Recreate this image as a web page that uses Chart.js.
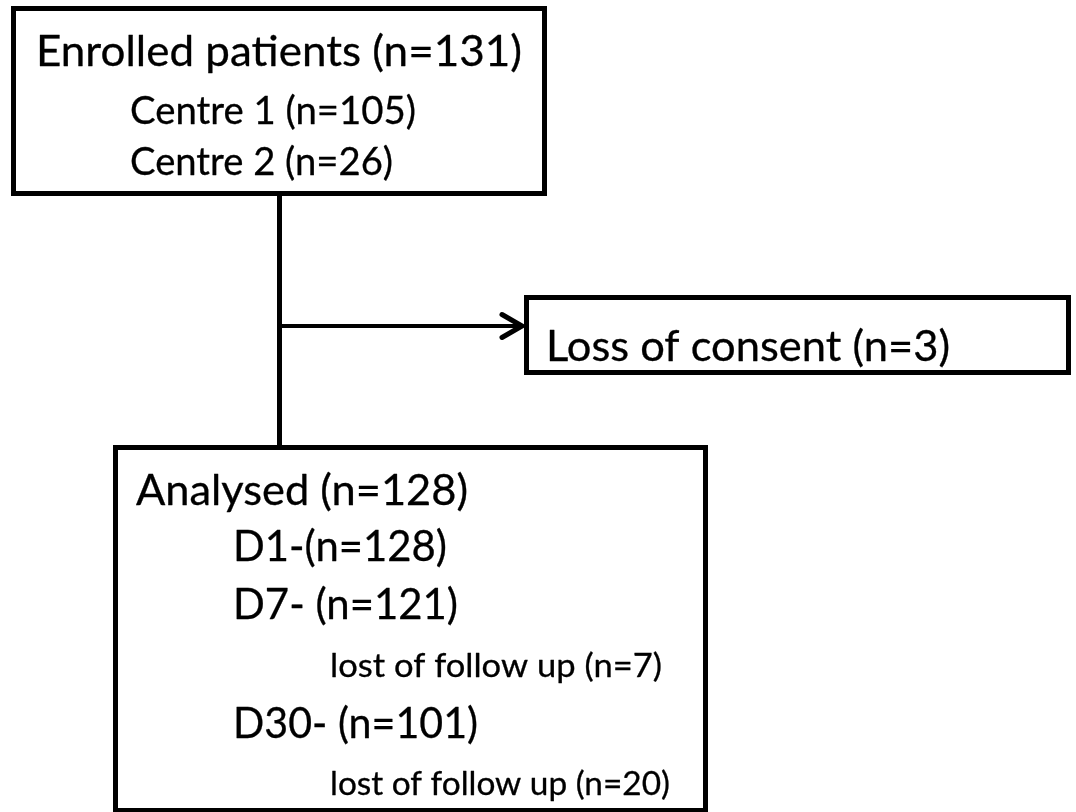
<!DOCTYPE html>
<html>
<head>
<meta charset="utf-8">
<script src="https://cdn.jsdelivr.net/npm/chart.js@4.4.1/dist/chart.umd.min.js"></script>
<style>
  html, body { margin: 0; padding: 0; background: #ffffff; }
  #wrap { width: 1076px; height: 812px; }
</style>
</head>
<body>
<div id="wrap"><canvas id="c" width="1076" height="812"></canvas></div>
<script>
// ---- data ----
const enrolledLabel = 'Enrolled patients';
const enrolledN = 131;
const centres = ['Centre 1', 'Centre 2'];
const centreN = [105, 26];
const exclusionLabel = 'Loss of consent';
const exclusionN = 3;
const analysedLabel = 'Analysed';
const analysedN = 128;
const visits = ['D1-', 'D7- ', 'D30- '];
const visitN = [128, 121, 101];
const lostLabel = 'lost of follow up';
const lostN = [null, 7, 20];

// ---- text built from the data ----
const nTxt = n => '(n=' + n + ')';
const enrolledLines = [enrolledLabel + ' ' + nTxt(enrolledN)]
  .concat(centres.map((c, i) => c + ' ' + nTxt(centreN[i])));
const exclusionLines = [exclusionLabel + ' ' + nTxt(exclusionN)];
const analysedLines = [analysedLabel + ' ' + nTxt(analysedN)];
visits.forEach((v, i) => {
  analysedLines.push(v + nTxt(visitN[i]));
  if (lostN[i] != null) analysedLines.push(lostLabel + ' ' + nTxt(lostN[i]));
});

// ---- layout (axis units of the hidden scales) ----
const layout = {
  border: 5,
  boxes: [
    { x0: 11, y0: 6, x1: 547, y1: 196 },
    { x0: 524, y0: 295, x1: 1071, y1: 375 },
    { x0: 113, y0: 445, x1: 708, y1: 813 }
  ],
  // per line: left, baseline, right, cap height
  text: [
    [ [36, 66, 522, 30], [130, 124, 416, 27.5], [130, 175, 393, 27.5] ],
    [ [546, 361, 950, 30.5] ],
    [ [136, 505, 468, 30.5], [233, 561, 447, 30], [233, 619, 458, 30],
      [330, 677, 662, 23], [233, 738, 478, 30], [330, 795, 670, 23] ]
  ],
  stem: { x: 279.5, y0: 196, y1: 445, w: 5 },
  branch: { y: 326, x1: 522, w: 4, head: 20, spread: 11.5, headW: 5 }
};

const flowPlugin = {
  id: 'flow',
  beforeDraw(chart) {
    const ctx = chart.ctx;
    ctx.save();
    ctx.fillStyle = '#ffffff';
    ctx.fillRect(0, 0, chart.width, chart.height);
    ctx.restore();
  },
  afterDraw(chart) {
    const ctx = chart.ctx;
    const X = v => chart.scales.x.getPixelForValue(v);
    const Y = v => chart.scales.y.getPixelForValue(v);
    ctx.save();
    ctx.strokeStyle = '#000';
    ctx.fillStyle = '#000';
    ctx.lineJoin = 'miter';
    // connectors
    const s = layout.stem;
    ctx.lineWidth = s.w;
    ctx.beginPath();
    ctx.moveTo(X(s.x), Y(s.y0));
    ctx.lineTo(X(s.x), Y(s.y1));
    ctx.stroke();
    const b = layout.branch;
    ctx.lineWidth = b.w;
    ctx.beginPath();
    ctx.moveTo(X(s.x), Y(b.y));
    ctx.lineTo(X(b.x1) - 1, Y(b.y));
    ctx.stroke();
    ctx.lineCap = 'round';
    ctx.lineWidth = b.headW;
    ctx.beginPath();
    ctx.moveTo(X(b.x1 - b.head), Y(b.y - b.spread));
    ctx.lineTo(X(b.x1), Y(b.y));
    ctx.lineTo(X(b.x1 - b.head), Y(b.y + b.spread));
    ctx.stroke();
    ctx.lineCap = 'butt';
    // boxes
    const h = layout.border / 2;
    ctx.lineWidth = layout.border;
    layout.boxes.forEach(bx => {
      const x0 = X(bx.x0) + h, y0 = Y(bx.y0) + h;
      const x1 = X(bx.x1) - h, y1 = Y(bx.y1) - h;
      ctx.fillStyle = '#fff';
      ctx.fillRect(x0, y0, x1 - x0, y1 - y0);
      ctx.strokeRect(x0, y0, x1 - x0, y1 - y0);
    });
    // texts
    ctx.fillStyle = '#000';
    ctx.strokeStyle = '#000';
    ctx.lineWidth = 0.3;
    ctx.lineJoin = 'round';
    ctx.textBaseline = 'alphabetic';
    ctx.textAlign = 'left';
    const groups = [enrolledLines, exclusionLines, analysedLines];
    groups.forEach((lines, g) => {
      lines.forEach((t, i) => {
        const [lx, by, rx, cap] = layout.text[g][i];
        const size = cap / 0.7165;
        ctx.font = size.toFixed(2) + 'px Lato, "Open Sans", sans-serif';
        const w = ctx.measureText(t).width;
        const target = X(rx) - X(lx);
        ctx.save();
        ctx.translate(X(lx), Y(by));
        ctx.scale(target / w, 1);
        ctx.fillText(t, 0, 0);
        ctx.strokeText(t, 0, 0);
        ctx.restore();
      });
    });
    ctx.restore();
  }
};

function draw() {
  new Chart(document.getElementById('c'), {
    type: 'scatter',
    data: { datasets: [] },
    options: {
      responsive: false,
      animation: false,
      devicePixelRatio: 1,
      layout: { padding: 0 },
      plugins: { legend: { display: false }, tooltip: { enabled: false } },
      scales: {
        x: { type: 'linear', min: 0, max: 1076, display: false },
        y: { type: 'linear', min: 0, max: 812, reverse: true, display: false }
      }
    },
    plugins: [flowPlugin]
  });
}
if (document.fonts && document.fonts.load) {
  Promise.all([document.fonts.load('40px Lato')]).then(draw, draw);
} else {
  draw();
}
</script>
</body>
</html>
